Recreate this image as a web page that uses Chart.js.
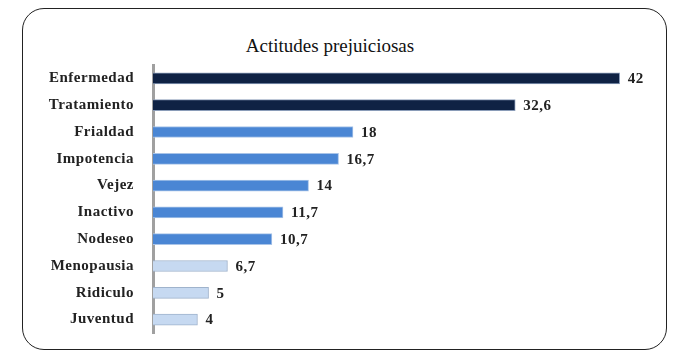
<!DOCTYPE html>
<html>
<head>
<meta charset="utf-8">
<script src="https://cdn.jsdelivr.net/npm/chart.js@4"></script>
<style>
  html, body { margin: 0; padding: 0; background: #fff; }
  #wrap { position: relative; width: 698px; height: 362px; }
  #frame {
    position: absolute; left: 22px; top: 8px; width: 643px; height: 340px;
    border: 1.5px solid #222; border-radius: 22px;
  }
  #title {
    position: absolute; left: 180px; width: 300px; top: 35px; text-align: center;
    font-family: 'Liberation Serif', serif; font-size: 19px; color: #111;
  }
  canvas { position: absolute; left: 0; top: 0; }
</style>
</head>
<body>
<div id="wrap">
  <div id="frame"></div>
  <div id="title">Actitudes prejuiciosas</div>
  <canvas id="chart" width="698" height="362"></canvas>
</div>
<script>
const categories = ['Enfermedad', 'Tratamiento', 'Frialdad', 'Impotencia', 'Vejez',
  'Inactivo', 'Nodeseo', 'Menopausia', 'Ridiculo', 'Juventud'];
const values = [42, 32.6, 18, 16.7, 14, 11.7, 10.7, 6.7, 5, 4];
const valueLabels = ['42', '32,6', '18', '16,7', '14', '11,7', '10,7', '6,7', '5', '4'];

const dark = '#0f2244', mid = '#4a86d4', light = '#c6d9f1';
const barColors = values.map((v, i) => i < 2 ? dark : (i < 7 ? mid : light));
const edgeColors = values.map((v, i) => i < 2 ? '#8a9cb8' : (i < 7 ? '#a9c4e8' : '#9fb3cc'));

// the text in the original is a bit stretched, so space the letters slightly
const spacingPlugin = {
  id: 'spacing',
  beforeDraw(chart) { chart.ctx.letterSpacing = '0.5px'; }
};

// draws the value next to the end of each bar
const valueLabelPlugin = {
  id: 'valueLabels',
  afterDatasetsDraw(chart) {
    const ctx = chart.ctx;
    const meta = chart.getDatasetMeta(0);
    ctx.save();
    ctx.letterSpacing = '0.5px';
    ctx.font = 'bold 15px "Liberation Serif", serif';
    ctx.fillStyle = '#222';
    ctx.textBaseline = 'middle';
    meta.data.forEach((bar, i) => {
      ctx.fillText(valueLabels[i], bar.x + 8, bar.y + 1);
    });
    ctx.restore();
  }
};

new Chart(document.getElementById('chart'), {
  type: 'bar',
  data: {
    labels: categories,
    datasets: [{
      data: values,
      backgroundColor: barColors,
      borderColor: edgeColors,
      borderWidth: 1,
      barThickness: 11
    }]
  },
  options: {
    indexAxis: 'y',
    responsive: false,
    animation: false,
    layout: { padding: { left: 0, right: 45, top: 65, bottom: 29 } },
    plugins: { legend: { display: false }, tooltip: { enabled: false } },
    scales: {
      x: { display: false, min: 0, max: 45 },
      y: {
        afterFit(scale) { scale.width = 153; },
        grid: { display: false, drawTicks: false },
        border: { display: true, color: '#a0a0a0', width: 3 },
        ticks: {
          padding: 19,
          color: '#222',
          font: { family: '"Liberation Serif", serif', size: 15, weight: 'bold' }
        }
      }
    }
  },
  plugins: [spacingPlugin, valueLabelPlugin]
});
</script>
</body>
</html>
